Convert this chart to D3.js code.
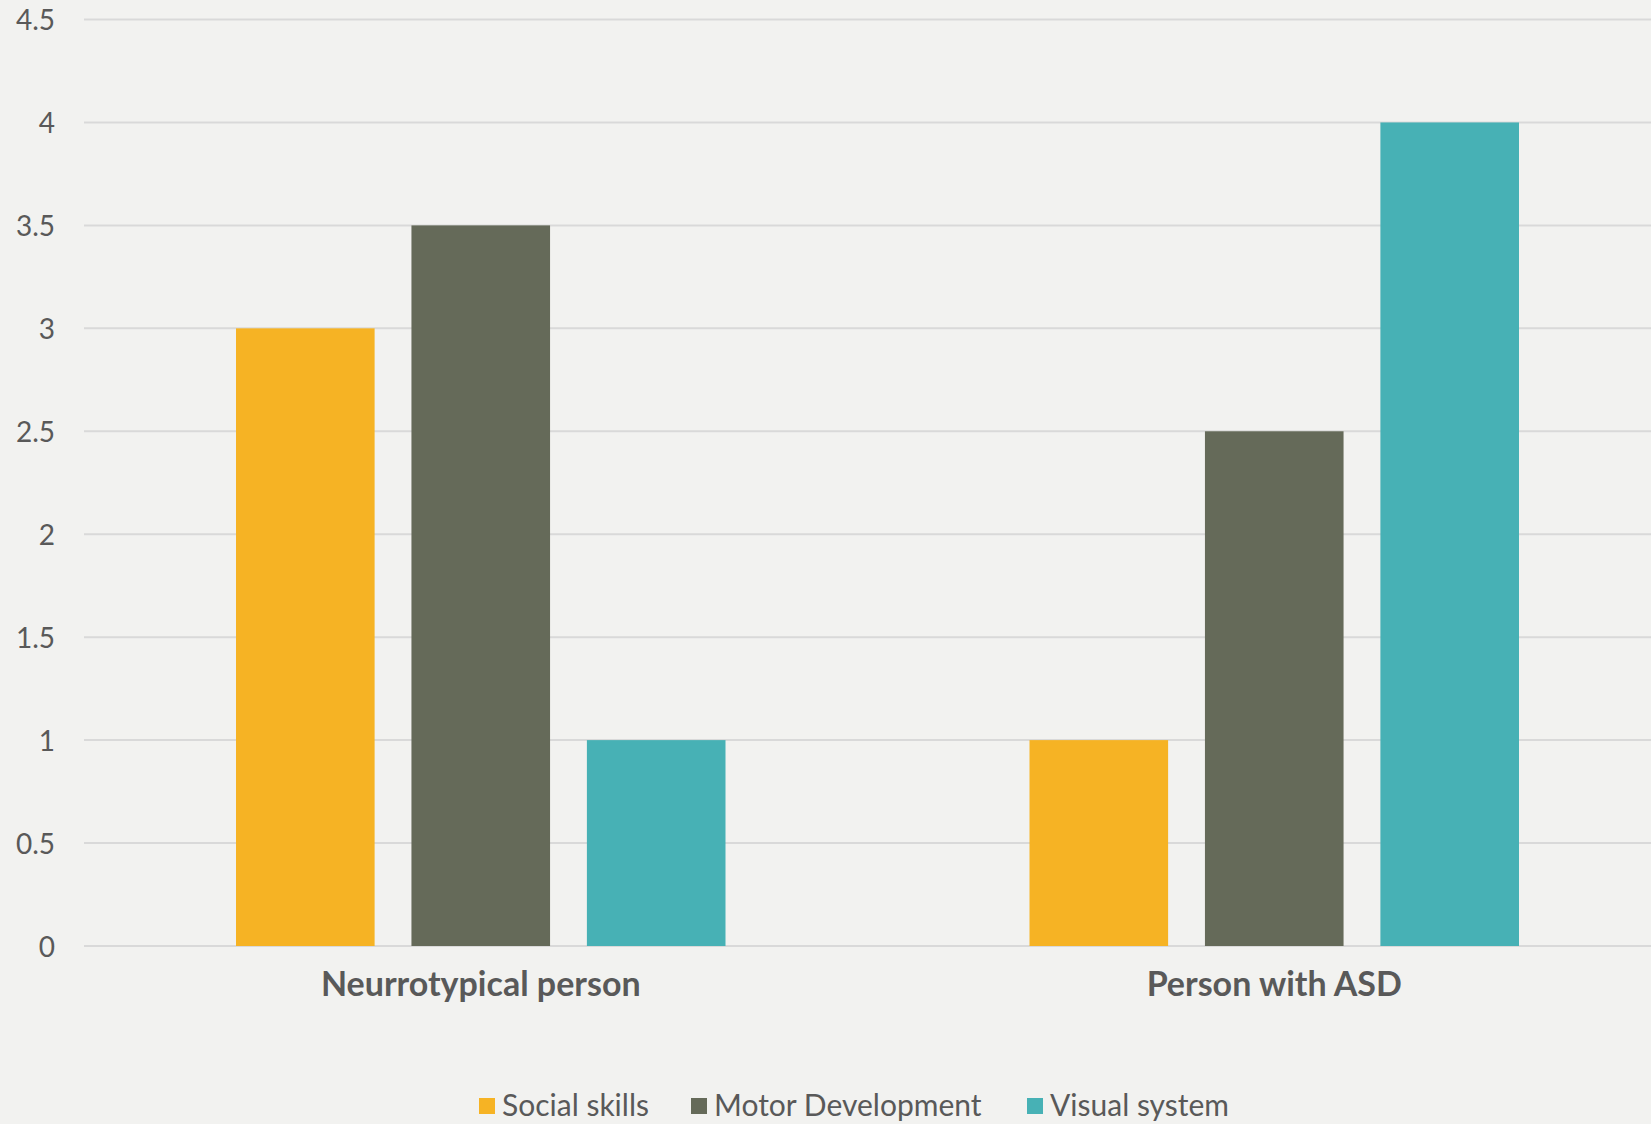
<!DOCTYPE html>
<html>
<head>
<meta charset="utf-8">
<script src="https://cdn.jsdelivr.net/npm/d3@7"></script>
<style>
  html, body { margin: 0; padding: 0; background: #f2f2f0; overflow: hidden; }
  svg { display: block; }
  text { font-family: "Lato", "Open Sans", sans-serif; fill: #595959; }
</style>
</head>
<body>
<svg id="chart" width="1651" height="1124"></svg>
<script>
// Chart data
const categories = ["Neurrotypical person", "Person with ASD"];
const seriesNames = ["Social skills", "Motor Development", "Visual system"];
const socialSkills = [3, 1];
const motorDevelopment = [3.5, 2.5];
const visualSystem = [1, 4];
const yTicks = [0, 0.5, 1, 1.5, 2, 2.5, 3, 3.5, 4, 4.5];
const colors = ["#f6b324", "#656a59", "#47b1b5"];

const seriesValues = [socialSkills, motorDevelopment, visualSystem];

const W = 1651, H = 1124;
const svg = d3.select("#chart");
const plot = { left: 84, right: 1671, top: 19.5, bottom: 946 };

const y = d3.scaleLinear().domain([0, 4.5]).range([plot.bottom, plot.top]);
const x0 = d3.scaleBand().domain(categories).range([plot.left, plot.right])
  .paddingInner(0).paddingOuter(0);
const x1 = d3.scaleBand().domain(seriesNames).range([152, x0.bandwidth() - 152])
  .paddingInner(0.21).paddingOuter(0);

// Gridlines
svg.append("g")
  .selectAll("line")
  .data(yTicks)
  .join("line")
  .attr("x1", plot.left)
  .attr("x2", W)
  .attr("y1", d => y(d))
  .attr("y2", d => y(d))
  .attr("stroke", "#d9d9d9")
  .attr("stroke-width", 2);

// Y axis labels
const yAxis = d3.axisLeft(y).tickValues(yTicks).tickSize(0).tickPadding(0)
  .tickFormat(d => String(d));
const yg = svg.append("g").attr("transform", "translate(55,0)").call(yAxis);
yg.select(".domain").remove();
yg.selectAll("text")
  .attr("font-size", 28)
  .attr("dy", "0.36em")
  .style("font-family", "Lato, sans-serif")
  .attr("fill", "#595959");

// Bars
const groups = svg.append("g")
  .selectAll("g")
  .data(categories)
  .join("g")
  .attr("transform", d => `translate(${x0(d)},0)`);

groups.selectAll("rect")
  .data((d, i) => seriesNames.map((s, j) => ({ s, v: seriesValues[j][i], j })))
  .join("rect")
  .attr("x", d => x1(d.s))
  .attr("width", x1.bandwidth())
  .attr("y", d => y(d.v))
  .attr("height", d => y(0) - y(d.v))
  .attr("fill", d => colors[d.j]);

// Category labels
const xAxis = d3.axisBottom(x0).tickSize(0).tickPadding(0);
const xg = svg.append("g").attr("transform", `translate(0,${plot.bottom})`).call(xAxis);
xg.select(".domain").remove();
xg.selectAll("text")
  .attr("y", 50)
  .attr("dy", 0)
  .attr("font-size", 34)
  .attr("font-weight", "bold")
  .style("font-family", "Lato, sans-serif")
  .attr("fill", "#595959");

// Legend
const legendX = [479, 691, 1027];
const legend = svg.append("g");
seriesNames.forEach((name, i) => {
  legend.append("rect")
    .attr("x", legendX[i])
    .attr("y", 1098)
    .attr("width", 16)
    .attr("height", 16)
    .attr("fill", colors[i]);
  legend.append("text")
    .attr("x", legendX[i] + 23)
    .attr("y", 1116)
    .attr("font-size", 30)
    .text(name);
});
</script>
</body>
</html>
